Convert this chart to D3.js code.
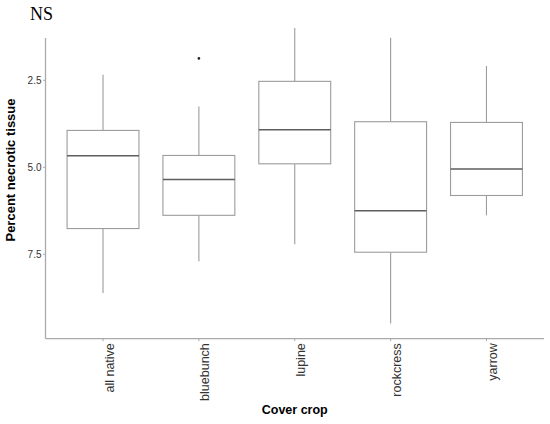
<!DOCTYPE html>
<html>
<head>
<meta charset="utf-8">
<script src="https://cdn.jsdelivr.net/npm/d3@7"></script>
<style>
  body { margin: 0; background: #fff; }
  svg { display: block; }
</style>
</head>
<body>
<div id="chart"></div>
<script>
// Boxplot data (y axis is reversed)
const categories = ['all native', 'bluebunch', 'lupine', 'rockcress', 'yarrow'];
const whiskerLow = [2.34, 3.25, 1.00, 1.28, 2.09];
const q1 = [3.94, 4.66, 2.53, 3.69, 3.71];
const medians = [4.67, 5.35, 3.92, 6.25, 5.05];
const q3 = [6.76, 6.38, 4.90, 7.44, 5.81];
const whiskerHigh = [8.61, 7.70, 7.21, 9.49, 6.38];
const outliers = [[], [1.87], [], [], []];
const yTicks = [2.5, 5.0, 7.5];

const width = 550, height = 424;
const plotLeft = 45.5, plotRight = 544, plotTop = 38, plotBottom = 338.7;

const svg = d3.select('#chart').append('svg')
    .attr('width', width)
    .attr('height', height);

// x scale: discrete, like ggplot's 0.6 expansion
const x = d3.scalePoint()
    .domain(categories)
    .range([plotLeft, plotRight])
    .padding(0.6);
const step = x.step();
const boxW = step * 0.75;

// y scale reversed: 2.5 near the top
const y = d3.scaleLinear()
    .domain([2.5, 7.5])
    .range([80.3, 254.3]);

const boxes = categories.map((c, i) => ({
    cat: c, lo: whiskerLow[i], q1: q1[i], med: medians[i],
    q3: q3[i], hi: whiskerHigh[i], out: outliers[i]
}));

const g = svg.append('g');

// whiskers
g.selectAll('.wtop').data(boxes).enter().append('line')
    .attr('x1', d => x(d.cat)).attr('x2', d => x(d.cat))
    .attr('y1', d => y(d.lo)).attr('y2', d => y(d.q1))
    .attr('stroke', '#9c9c9c').attr('stroke-width', 1.1);
g.selectAll('.wbot').data(boxes).enter().append('line')
    .attr('x1', d => x(d.cat)).attr('x2', d => x(d.cat))
    .attr('y1', d => y(d.q3)).attr('y2', d => y(d.hi))
    .attr('stroke', '#9c9c9c').attr('stroke-width', 1.1);

// boxes
g.selectAll('rect').data(boxes).enter().append('rect')
    .attr('x', d => x(d.cat) - boxW / 2)
    .attr('y', d => y(d.q1))
    .attr('width', boxW)
    .attr('height', d => y(d.q3) - y(d.q1))
    .attr('fill', '#fff')
    .attr('stroke', '#9c9c9c')
    .attr('stroke-width', 1.1);

// medians
g.selectAll('.med').data(boxes).enter().append('line')
    .attr('x1', d => x(d.cat) - boxW / 2).attr('x2', d => x(d.cat) + boxW / 2)
    .attr('y1', d => y(d.med)).attr('y2', d => y(d.med))
    .attr('stroke', '#5e5e5e').attr('stroke-width', 1.4);

// outliers
boxes.forEach(d => {
    g.selectAll(null).data(d.out).enter().append('circle')
        .attr('cx', x(d.cat)).attr('cy', v => y(v))
        .attr('r', 1.3).attr('fill', '#222');
});

// axis lines
svg.append('line')
    .attr('x1', plotLeft).attr('x2', plotLeft).attr('y1', plotTop).attr('y2', plotBottom)
    .attr('stroke', '#aaa').attr('stroke-width', 1.3);
svg.append('line')
    .attr('x1', plotLeft).attr('x2', plotRight).attr('y1', plotBottom).attr('y2', plotBottom)
    .attr('stroke', '#aaa').attr('stroke-width', 1.3);

// y ticks
const yt = svg.append('g').selectAll('g').data(yTicks).enter().append('g')
    .attr('transform', d => `translate(${plotLeft},${y(d)})`);
yt.append('line').attr('x1', -2.5).attr('x2', 0).attr('stroke', '#aaa');
yt.append('text')
    .attr('x', -4).attr('dy', '0.35em')
    .attr('text-anchor', 'end')
    .attr('font-family', 'Liberation Sans, Arial, sans-serif')
    .attr('font-size', 10).attr('fill', '#333')
    .text(d => d.toFixed(1));

// x ticks
const xt = svg.append('g').selectAll('g').data(categories).enter().append('g')
    .attr('transform', d => `translate(${x(d)},${plotBottom})`);
xt.append('line').attr('y1', 0).attr('y2', 2.5).attr('stroke', '#aaa');
xt.append('text')
    .attr('transform', 'translate(10.5,4.5) rotate(-90)')
    .attr('text-anchor', 'end')
    .attr('font-family', 'Liberation Sans, Arial, sans-serif')
    .attr('font-size', 12.5).attr('fill', '#333')
    .text(d => d);

// axis titles
svg.append('text')
    .attr('x', (plotLeft + plotRight) / 2).attr('y', 414)
    .attr('text-anchor', 'middle')
    .attr('font-family', 'Liberation Sans, Arial, sans-serif')
    .attr('font-size', 12.5).attr('font-weight', 'bold')
    .text('Cover crop');
svg.append('text')
    .attr('transform', 'translate(15,170) rotate(-90)')
    .attr('text-anchor', 'middle')
    .attr('font-family', 'Liberation Sans, Arial, sans-serif')
    .attr('font-size', 13).attr('font-weight', 'bold')
    .text('Percent necrotic tissue');

// title
svg.append('text')
    .attr('x', 30).attr('y', 20)
    .attr('font-family', 'Liberation Serif, Times New Roman, serif')
    .attr('font-size', 18)
    .text('NS');
</script>
</body>
</html>
